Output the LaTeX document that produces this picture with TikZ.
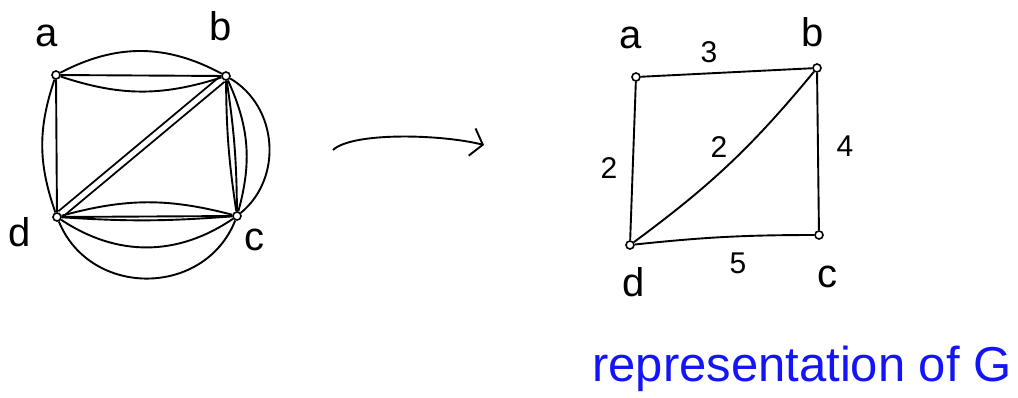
\documentclass[tikz,border=0pt]{standalone}
\usepackage{fontspec}
\setmainfont{Liberation Sans}
\usetikzlibrary{arrows.meta}
\tikzstyle{vert} = [circle, draw, line width=1.6pt, inner sep=0pt, minimum size=8pt]
\tikzstyle{edge} = [line width=1.9pt]
\tikzstyle{lbl} = [font=\fontsize{40}{40}\selectfont]
\tikzstyle{wt} = [font=\fontsize{30}{30}\selectfont]
\definecolor{penblue}{RGB}{20,20,250}

\begin{document}
\begin{tikzpicture}[x=1pt, y=-1pt]
    \useasboundingbox (0,0) rectangle (1018,397);

    % Multigraph G
    \node[vert] (a) at (56,75) {};
    \node[vert] (b) at (226,76) {};
    \node[vert] (c) at (237,216) {};
    \node[vert] (d) at (57,217) {};
    \node[lbl] (la) at (47,36) {a};
    \node[lbl] (lb) at (221,26) {b};
    \node[lbl] (lc) at (254,240) {c};
    \node[lbl] (ld) at (20,232) {d};

    \draw[edge, double distance=5pt] (b) -- (d);
    \draw[edge] (a) to[bend left=28] (b);
    \draw[edge] (a) -- (b);
    \draw[edge] (a) to[bend right=18] (b);
    \draw[edge] (a) -- (d);
    \draw[edge] (a) to[bend right=19] (d);
    \draw[edge] (b) to[bend right=4] (c);
    \draw[edge] (b) to[bend left=4] (c);
    \draw[edge] (b) to[bend left=20] (c);
    \draw[edge] (b) to[bend left=55, looseness=1.05] (c);
    \draw[edge] (d) to[bend left=15] (c);
    \draw[edge] (d) -- (c);
    \draw[edge] (d) to[bend right=4] (c);
    \draw[edge] (d) to[bend right=34] (c);
    \draw[edge] (d) to[bend right=68, looseness=1.2] (c);

    % Arrow
    \coordinate (arrS) at (333,150);
    \coordinate (arrE) at (484,145);
    \draw[edge, -{Straight Barb[length=11pt, width=28pt]}] (arrS) .. controls (352,132) and (440,134) .. (arrE);

    % Weighted graph
    \node[vert] (wa) at (636,77) {};
    \node[vert] (wb) at (817,68) {};
    \node[vert] (wc) at (819,235) {};
    \node[vert] (wd) at (630,245) {};
    \node[lbl] (lwa) at (631,38) {a};
    \node[lbl] (lwb) at (813,32) {b};
    \node[lbl] (lwc) at (827,277) {c};
    \node[lbl] (lwd) at (634,282) {d};

    \draw[edge] (wa) -- (wb);
    \draw[edge] (wa) -- (wd);
    \draw[edge] (wd) to[bend right=7] (wb);
    \draw[edge] (wb) -- (wc);
    \draw[edge] (wd) to[bend left=3] (wc);

    \node[wt] (w1) at (709,52) {3};
    \node[wt] (w2) at (609,168) {2};
    \node[wt] (w3) at (719,147) {2};
    \node[wt] (w4) at (845,146) {4};
    \node[wt] (w5) at (738,263) {5};

    \node[font=\fontsize{49}{49}\selectfont, text=penblue, anchor=base west, inner sep=0pt] (cap) at (592,381) {representation of G};
\end{tikzpicture}
\end{document}
